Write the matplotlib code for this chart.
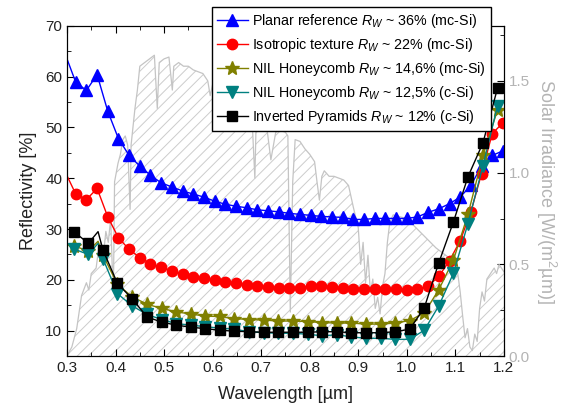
import matplotlib
matplotlib.use("Agg")
import matplotlib.pyplot as plt
from matplotlib.ticker import MultipleLocator

plt.rcParams['font.family'] = ['Liberation Sans', 'DejaVu Sans']
plt.rcParams['mathtext.fontset'] = 'custom'
plt.rcParams['mathtext.rm'] = 'Liberation Sans'
plt.rcParams['mathtext.it'] = 'Liberation Sans:italic'
plt.rcParams['hatch.linewidth'] = 0.7

# --- reflectivity data (um, %) ---
# planar reference / isotropic texture share the same wavelength grid (first point = line start, no marker)
wl_a = [0.300, 0.318, 0.340, 0.362, 0.384, 0.406, 0.428, 0.450, 0.472, 0.494, 0.516,
        0.538, 0.560, 0.582, 0.604, 0.626, 0.648, 0.670, 0.692, 0.714, 0.736,
        0.758, 0.780, 0.802, 0.824, 0.846, 0.868, 0.890, 0.912, 0.934, 0.956,
        0.978, 1.000, 1.022, 1.044, 1.066, 1.088, 1.110, 1.132, 1.154, 1.176, 1.198]
planar = [63.5, 58.9, 57.3, 60.4, 53.2, 47.8, 44.5, 42.4, 40.6, 39.1, 38.3,
          37.5, 36.9, 36.3, 35.5, 34.9, 34.5, 34.2, 33.8, 33.6, 33.4,
          33.1, 32.9, 32.7, 32.5, 32.4, 32.3, 31.9, 31.9, 32.1, 32.1,
          32.1, 32.1, 32.4, 33.3, 34.0, 35.0, 36.3, 38.6, 42.4, 44.5, 45.4]
isotropic = [40.5, 36.9, 35.8, 38.0, 32.4, 28.3, 26.0, 24.4, 23.2, 22.5, 21.8,
             21.1, 20.6, 20.3, 20.0, 19.6, 19.3, 19.0, 18.8, 18.6, 18.5,
             18.4, 18.4, 18.8, 18.8, 18.6, 18.5, 18.3, 18.3, 18.3, 18.2,
             18.2, 18.0, 18.2, 18.8, 20.7, 23.8, 27.7, 33.4, 40.9, 48.8, 50.9]

# honeycomb / pyramids grid (index 2 is an unmarked bump in the curve)
wl_b = [0.314, 0.344, 0.364, 0.374, 0.404, 0.434, 0.465, 0.495, 0.525, 0.555, 0.585,
        0.615, 0.645, 0.675, 0.705, 0.735, 0.766, 0.796, 0.826, 0.856, 0.886,
        0.916, 0.946, 0.976, 1.006, 1.036, 1.066, 1.096, 1.126, 1.157, 1.187]
nil_mc = [26.7, 25.7, 27.6, 24.9, 19.1, 16.7, 15.2, 14.4, 13.7, 13.3, 12.85,
          12.8, 12.4, 12.2, 12.1, 11.9, 11.9, 11.8, 11.6, 11.5, 11.5,
          11.3, 11.3, 11.5, 12.0, 13.5, 18.1, 23.9, 32.9, 44.5, 53.5]
nil_c = [26.1, 25.0, 27.2, 24.2, 17.3, 14.9, 13.2, 12.2, 11.4, 11.1, 10.8,
         10.5, 10.3, 9.8, 9.6, 9.5, 9.5, 9.3, 9.0, 9.2, 8.8,
         8.5, 8.5, 8.3, 8.3, 10.1, 14.9, 21.3, 31.1, 42.5, 54.3]
inv_pyr = [29.5, 27.2, 29.5, 25.9, 19.3, 16.3, 12.7, 11.7, 11.1, 10.7, 10.4,
           10.1, 9.9, 9.8, 9.7, 9.7, 9.7, 9.7, 9.8, 9.8, 9.6,
           9.6, 9.6, 9.8, 10.3, 14.5, 23.4, 31.4, 40.3, 47.0, 57.8]

labels = [r"Planar reference $R_W$ ~ 36% (mc-Si)",
          r"Isotropic texture $R_W$ ~ 22% (mc-Si)",
          r"NIL Honeycomb $R_W$ ~ 14,6% (mc-Si)",
          r"NIL Honeycomb $R_W$ ~ 12,5% (c-Si)",
          r"Inverted Pyramids $R_W$ ~ 12% (c-Si)"]

# --- AM1.5 solar irradiance (um, W/(m2 um)) ---
wl_sun = [0.300, 0.310, 0.320, 0.330, 0.340, 0.345, 0.350, 0.360, 0.365, 0.370, 0.375,
          0.380, 0.385, 0.390, 0.393, 0.396, 0.398, 0.405, 0.410, 0.415, 0.420,
          0.425, 0.430, 0.432, 0.440, 0.445, 0.450, 0.460, 0.470, 0.480, 0.486,
          0.490, 0.500, 0.510, 0.517, 0.520, 0.530, 0.540, 0.550, 0.560, 0.570,
          0.580, 0.590, 0.595, 0.600, 0.610, 0.620, 0.630, 0.640, 0.650, 0.656,
          0.660, 0.670, 0.680, 0.687, 0.690, 0.700, 0.710, 0.720, 0.730, 0.740,
          0.750, 0.755, 0.760, 0.765, 0.770, 0.780, 0.790, 0.800, 0.810, 0.815,
          0.820, 0.825, 0.830, 0.840, 0.850, 0.860, 0.870, 0.880, 0.890, 0.900,
          0.905, 0.910, 0.915, 0.920, 0.925, 0.930, 0.935, 0.940, 0.945, 0.950,
          0.955, 0.960, 0.965, 0.972, 0.985, 1.000, 1.060, 1.070, 1.080, 1.090,
          1.100, 1.105, 1.110, 1.115, 1.120, 1.125, 1.130, 1.135, 1.140, 1.145,
          1.150, 1.155, 1.160, 1.165, 1.170, 1.180, 1.185, 1.190, 1.200]
sun = [0.00, 0.05, 0.15, 0.33, 0.40, 0.36, 0.45, 0.48, 0.58, 0.62, 0.55,
       0.68, 0.62, 0.75, 0.50, 0.45, 0.95, 1.05, 1.10, 1.18, 1.20,
       1.15, 0.80, 1.15, 1.35, 1.45, 1.58, 1.60, 1.62, 1.64, 1.35,
       1.60, 1.62, 1.63, 1.45, 1.58, 1.60, 1.58, 1.58, 1.56, 1.55,
       1.54, 1.50, 1.42, 1.48, 1.47, 1.48, 1.44, 1.43, 1.38, 1.30,
       1.40, 1.38, 1.36, 0.97, 1.32, 1.30, 1.28, 1.07, 1.22, 1.23,
       1.22, 1.20, 0.24, 0.95, 1.18, 1.17, 1.13, 1.10, 1.06, 0.95,
       0.85, 0.98, 1.01, 0.98, 0.98, 0.97, 0.96, 0.93, 0.81, 0.70,
       0.50, 0.62, 0.40, 0.55, 0.35, 0.42, 0.26, 0.32, 0.23, 0.38,
       0.45, 0.62, 0.73, 0.77, 0.76, 0.75, 0.59, 0.57, 0.55, 0.53,
       0.50, 0.45, 0.35, 0.22, 0.10, 0.15, 0.05, 0.03, 0.12, 0.08,
       0.26, 0.35, 0.30, 0.42, 0.44, 0.48, 0.45, 0.50, 0.46]

fig = plt.figure(figsize=(5.63, 4.17), dpi=100)
ax = fig.add_axes([0.119, 0.146, 0.776, 0.792])
ax2 = ax.twinx()

sun_col = '#c4c4c4'
ax2.fill_between(wl_sun, 0, sun, facecolor='none', edgecolor='#cccccc', hatch='///', linewidth=0)
ax2.plot(wl_sun, sun, color=sun_col, lw=0.9)
ax2.set_ylim(0, 1.8)
ax2.yaxis.set_minor_locator(MultipleLocator(0.25))
ax2.set_yticks([0.0, 0.5, 1.0, 1.5])
ax2.set_yticklabels(['0.0', '0.5', '1.0', '1.5'])
ax2.tick_params(axis='y', which='both', direction='in', labelsize=11, labelcolor='#b4b4b4')
ax2.tick_params(axis='y', which='major', length=5)
ax2.tick_params(axis='y', which='minor', length=3)
ax2.set_ylabel(r"Solar Irradiance [W/(m$^2$µm)]", color='#b4b4b4', fontsize=13,
               rotation=270, labelpad=20)

ax.set_zorder(ax2.get_zorder() + 1)
ax.patch.set_visible(False)

mk_a = list(range(1, len(wl_a)))
mk_b = [i for i in range(len(wl_b)) if i != 2]

ax.plot(wl_a, planar, color='#0000ff', lw=1, marker='^', ms=8.5, markevery=mk_a, label=labels[0])
ax.plot(wl_a, isotropic, color='#ff0000', lw=1, marker='o', ms=7.5, markevery=mk_a, label=labels[1])
ax.plot(wl_b, nil_mc, color='#808000', lw=1, marker='*', ms=10, markevery=mk_b, label=labels[2])
ax.plot(wl_b, nil_c, color='#008080', lw=1, marker='v', ms=8.5, markevery=mk_b, label=labels[3])
ax.plot(wl_b, inv_pyr, color='black', lw=1, marker='s', ms=6.5, markevery=mk_b, label=labels[4])

ax.set_xlim(0.3, 1.2)
ax.set_ylim(5, 70)
ax.xaxis.set_minor_locator(MultipleLocator(0.05))
ax.yaxis.set_minor_locator(MultipleLocator(5))
ax.set_yticks([10, 20, 30, 40, 50, 60, 70])
ax.set_xticks([0.3, 0.4, 0.5, 0.6, 0.7, 0.8, 0.9, 1.0, 1.1, 1.2])
ax.set_xticklabels(['0.3', '0.4', '0.5', '0.6', '0.7', '0.8', '0.9', '1.0', '1.1', '1.2'])
ax.tick_params(which='both', direction='in', top=True, labelsize=11, labelcolor='#222222')
ax.tick_params(which='major', length=5)
ax.tick_params(which='minor', length=3)
ax.set_xlabel("Wavelength [µm]", fontsize=13, color='#222222', labelpad=8)
ax.set_ylabel("Reflectivity [%]", fontsize=13, color='#222222', labelpad=6)

leg = ax.legend(loc='upper left', bbox_to_anchor=(0.376, 0.984), bbox_transform=fig.transFigure,
                borderaxespad=0, fontsize=10.3, fancybox=False, framealpha=1, edgecolor='black',
                handlelength=2.2, handletextpad=0.3, borderpad=0.35, labelspacing=0.42)
leg.get_frame().set_linewidth(1)

fig.savefig("out.png", dpi=100)
